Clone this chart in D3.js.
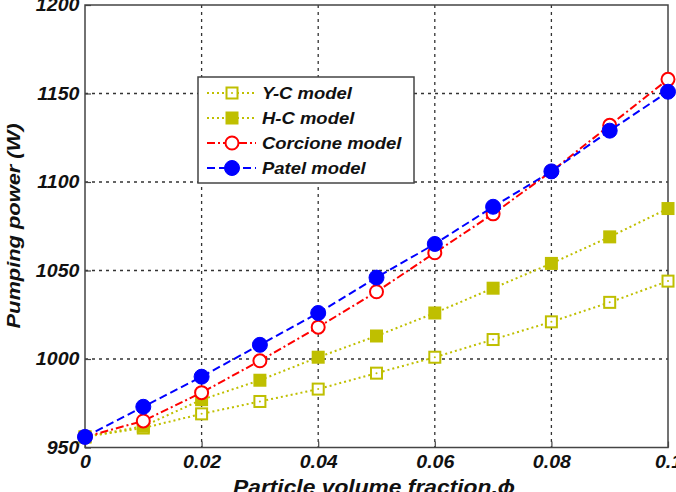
<!DOCTYPE html>
<html>
<head>
<meta charset="utf-8">
<script src="https://cdn.jsdelivr.net/npm/d3@7"></script>
<style>
  body { margin: 0; background: #fff; }
  svg text { font-family: "Liberation Sans", Arial, sans-serif; font-weight: bold; font-style: italic; fill: #111; }
</style>
</head>
<body>
<div id="chart"></div>
<script>
// particle volume fraction
var phi = [0, 0.01, 0.02, 0.03, 0.04, 0.05, 0.06, 0.07, 0.08, 0.09, 0.1];

// pumping power (W) per model
var yc = [956, 961, 969, 976, 983, 992, 1001, 1011, 1021, 1032, 1044];
var hc = [956, 962, 977, 988, 1001, 1013, 1026, 1040, 1054, 1069, 1085];
var corcione = [956, 965, 981, 999, 1018, 1038, 1060, 1082, 1106, 1132, 1158];
var patel = [956, 973, 990, 1008, 1026, 1046, 1065, 1086, 1106, 1129, 1151];

var xTicks = [0, 0.02, 0.04, 0.06, 0.08, 0.1];
var xTickLabels = ["0", "0.02", "0.04", "0.06", "0.08", "0.1"];
var yTicks = [950, 1000, 1050, 1100, 1150, 1200];
var seriesNames = ["Y-C model", "H-C model", "Corcione model", "Patel model"];

var olive = "#bfbf00";
var series = [
    {name: seriesNames[0], values: yc, color: olive, dash: "2,3", marker: "square-open"},
    {name: seriesNames[1], values: hc, color: olive, dash: "2,3", marker: "square"},
    {name: seriesNames[2], values: corcione, color: "#ff0000", dash: "8,3,2,3", marker: "circle-open"},
    {name: seriesNames[3], values: patel, color: "#0000ff", dash: "8,4", marker: "circle"}
];

var width = 676, height = 492;
var mLeft = 85, mRight = 668, mTop = 5, mBottom = 447.5;
var stretch = 1.12; // text in the picture is a bit wider than the font

var svg = d3.select("#chart").append("svg")
    .attr("width", width)
    .attr("height", height);

var x = d3.scaleLinear().domain([0, 0.1]).range([mLeft, mRight]);
var y = d3.scaleLinear().domain([950, 1200]).range([mBottom, mTop]);

// grid
svg.append("g").selectAll("line")
    .data(xTicks.slice(1, -1)).enter().append("line")
    .attr("x1", d => x(d)).attr("x2", d => x(d))
    .attr("y1", mTop).attr("y2", mBottom)
    .style("stroke", "#333").style("stroke-width", 1.3)
    .style("stroke-dasharray", "3,4");

svg.append("g").selectAll("line")
    .data(yTicks.slice(1, -1)).enter().append("line")
    .attr("x1", mLeft).attr("x2", mRight)
    .attr("y1", d => y(d)).attr("y2", d => y(d))
    .style("stroke", "#333").style("stroke-width", 1.3)
    .style("stroke-dasharray", "3,4");

// axes (ticks inside, like matlab)
var xAxis = d3.axisBottom(x).tickValues(xTicks)
    .tickFormat((d, i) => xTickLabels[i]).tickSizeInner(-6).tickSizeOuter(0).tickPadding(8);
var gx = svg.append("g").attr("transform", "translate(0," + mBottom + ")").call(xAxis);
gx.select(".domain").remove();
gx.selectAll("line").style("stroke", "#444").style("stroke-width", 1.2);
gx.selectAll("text").attr("font-size", "17.5px").style("fill", "#111")
    .attr("transform", "scale(" + stretch + ",1)");

var yAxis = d3.axisLeft(y).tickValues(yTicks)
    .tickFormat(d3.format("d")).tickSizeInner(-6).tickSizeOuter(0).tickPadding(5);
var gy = svg.append("g").attr("transform", "translate(" + mLeft + ",0)").call(yAxis);
gy.select(".domain").remove();
gy.selectAll("line").style("stroke", "#444").style("stroke-width", 1.2);
gy.selectAll("text").attr("font-size", "17.5px").style("fill", "#111")
    .attr("transform", "scale(" + stretch + ",1)");

// frame
svg.append("rect")
    .attr("x", mLeft).attr("y", mTop)
    .attr("width", mRight - mLeft).attr("height", mBottom - mTop)
    .style("fill", "none").style("stroke", "#444").style("stroke-width", 1.5);

// axis titles
svg.append("text")
    .attr("text-anchor", "middle")
    .attr("transform", "translate(20,226) rotate(-90) scale(1.15,1)")
    .attr("font-size", "19px")
    .text("Pumping power (W)");

svg.append("text")
    .attr("text-anchor", "middle")
    .attr("transform", "translate(374,494) scale(1.14,1)")
    .attr("font-size", "20px")
    .text("Particle volume fraction,\u03D5");

function drawMarker(g, type, color, cx, cy) {
    if (type === "square" || type === "square-open") {
        g.append("rect")
            .attr("x", cx - 5.5).attr("y", cy - 5.5)
            .attr("width", 11).attr("height", 11)
            .style("fill", type === "square" ? color : "#fff")
            .style("stroke", color).style("stroke-width", 2);
        if (type === "square-open") {
            g.append("circle").attr("cx", cx).attr("cy", cy).attr("r", 1)
                .style("fill", color);
        }
    } else {
        g.append("circle")
            .attr("cx", cx).attr("cy", cy)
            .attr("r", type === "circle" ? 7.5 : 6.5)
            .style("fill", type === "circle" ? color : "#fff")
            .style("stroke", color).style("stroke-width", type === "circle" ? 1 : 2);
    }
}

var line = d3.line()
    .x(d => x(d[0]))
    .y(d => y(d[1]));

series.forEach(function(s) {
    var pts = phi.map((p, i) => [p, s.values[i]]);
    var g = svg.append("g");
    g.append("path")
        .attr("d", line(pts))
        .style("fill", "none")
        .style("stroke", s.color)
        .style("stroke-width", 2)
        .style("stroke-dasharray", s.dash);
    pts.forEach(function(p) {
        drawMarker(g, s.marker, s.color, x(p[0]), y(p[1]));
    });
});

// legend
var lg = svg.append("g");
lg.append("rect")
    .attr("x", 198).attr("y", 77)
    .attr("width", 216).attr("height", 106)
    .style("fill", "#fff").style("stroke", "#444").style("stroke-width", 1.5);

series.forEach(function(s, i) {
    var ly = 93 + i * 25;
    lg.append("line")
        .attr("x1", 207).attr("x2", 256)
        .attr("y1", ly).attr("y2", ly)
        .style("stroke", s.color).style("stroke-width", 2)
        .style("stroke-dasharray", s.dash);
    drawMarker(lg, s.marker, s.color, 232, ly);
    lg.append("text")
        .attr("transform", "translate(262," + (ly + 6) + ") scale(" + stretch + ",1)")
        .attr("font-size", "16.5px")
        .text(s.name);
});
</script>
</body>
</html>
